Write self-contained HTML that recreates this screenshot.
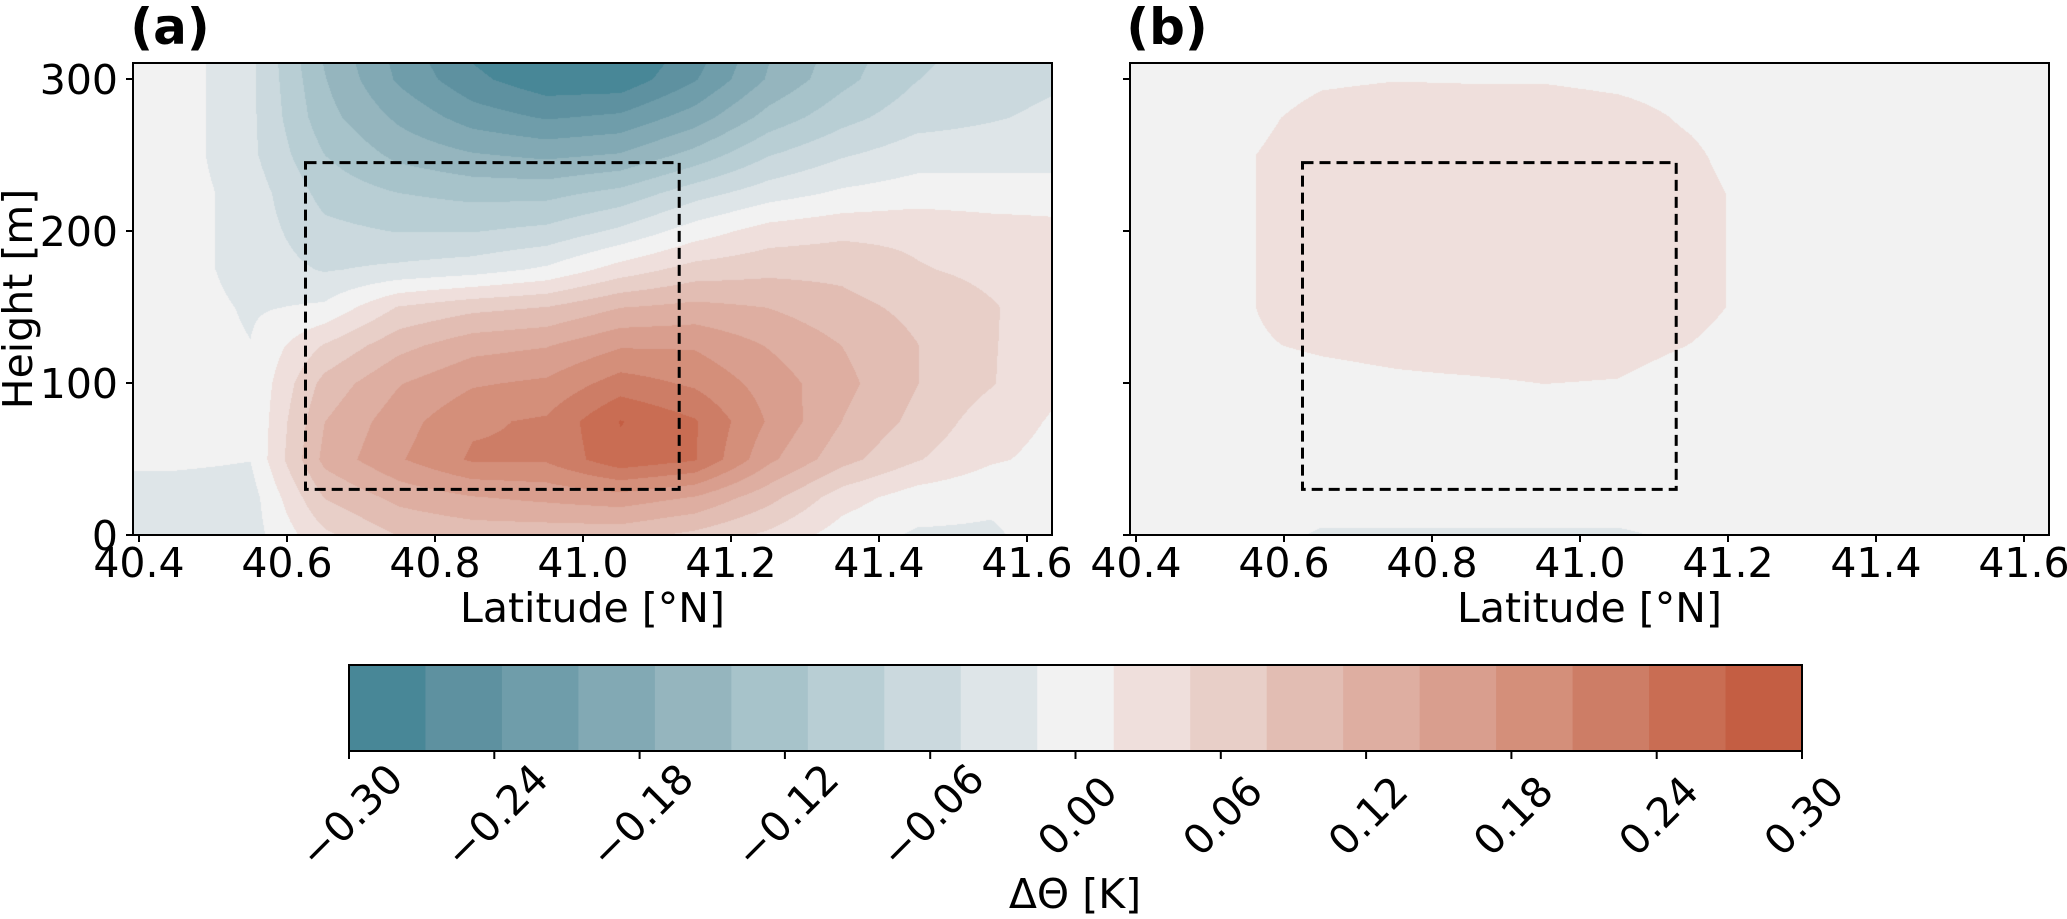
<!DOCTYPE html>
<html><head><meta charset="utf-8"><style>
html,body{margin:0;padding:0;background:#fff;}
#wrap{position:relative;width:2067px;height:919px;overflow:hidden;}
canvas{position:absolute;}
svg{position:absolute;left:0;top:0;}
text{font-family:"DejaVu Sans","Liberation Sans",sans-serif;fill:#000;}
</style></head><body>
<div id="wrap">
<canvas id="ca" width="919" height="472" style="left:133px;top:63px"></canvas>
<canvas id="cb" width="919" height="472" style="left:1130px;top:63px"></canvas>
<svg id="svg" width="2067" height="919"></svg>
</div>
<script>
// ---- data ----
const latGrid = [40.35,40.45,40.55,40.65,40.75,40.85,40.95,41.05,41.15,41.25,41.35,41.45,41.55,41.65];
const hGrid = [0,25,50,75,100,125,150,175,200,225,250,275,300,325];
const fieldA = [
[-0.03,-0.03,-0.03,0.04,0.08,0.09,0.09,0.09,0.07,0.04,0.0,-0.02,-0.02,0.0],
[-0.03,-0.03,-0.03,0.08,0.12,0.14,0.15,0.16,0.14,0.09,0.03,0.0,-0.01,-0.01],
[-0.01,-0.01,-0.015,0.12,0.17,0.21,0.21,0.26,0.24,0.15,0.09,0.05,0.02,0.005],
[0,0,-0.015,0.11,0.16,0.20,0.21,0.27,0.24,0.17,0.11,0.07,0.03,0.01],
[0,0,-0.015,0.09,0.14,0.17,0.18,0.22,0.20,0.16,0.12,0.08,0.05,0.015],
[0,0,-0.015,0.05,0.10,0.13,0.14,0.17,0.17,0.14,0.11,0.08,0.05,0.025],
[0,0,-0.02,-0.01,0.05,0.07,0.08,0.11,0.12,0.11,0.09,0.07,0.05,0.03],
[0,0,-0.03,-0.05,-0.04,-0.03,-0.01,0.03,0.06,0.07,0.07,0.05,0.04,0.03],
[0,0,-0.03,-0.07,-0.08,-0.08,-0.07,-0.04,0.0,0.03,0.04,0.04,0.03,0.025],
[0,0,-0.03,-0.09,-0.11,-0.12,-0.12,-0.10,-0.06,-0.03,-0.01,0.0,0.0,0.0],
[0,0,-0.04,-0.11,-0.15,-0.17,-0.18,-0.17,-0.13,-0.08,-0.05,-0.03,-0.03,-0.03],
[0,0,-0.04,-0.13,-0.18,-0.22,-0.24,-0.23,-0.19,-0.13,-0.09,-0.06,-0.05,-0.04],
[0,0,-0.04,-0.14,-0.21,-0.26,-0.29,-0.29,-0.24,-0.17,-0.12,-0.08,-0.06,-0.05],
[0,0,-0.04,-0.15,-0.22,-0.28,-0.31,-0.31,-0.26,-0.18,-0.13,-0.09,-0.07,-0.06]];
const fieldB = [
[0,0,0,-0.02,-0.02,-0.02,-0.02,-0.02,-0.01,0,0,0,0,0],
[0,0,0,0,0,0,0,0,0,0,0,0,0,0],
[0,0,0,0,0,0,0,0,0,0,0,0,0,0],
[0,0,0,0.003,0.004,0.005,0.006,0.005,0,0,0,0,0,0],
[0,0,0,0.005,0.01,0.012,0.016,0.014,0.0,0,0,0,0,0],
[0,0,0.012,0.02,0.025,0.03,0.03,0.028,0.015,0,0,0,0,0],
[0,0,0.014,0.03,0.035,0.035,0.035,0.035,0.025,0.005,0,0,0,0],
[0,0,0.014,0.03,0.035,0.035,0.035,0.035,0.025,0.005,0,0,0,0],
[0,0,0.014,0.03,0.035,0.035,0.035,0.035,0.025,0.005,0,0,0,0],
[0,0,0.014,0.03,0.035,0.035,0.035,0.035,0.025,0.005,0,0,0,0],
[0,0,0.014,0.03,0.035,0.035,0.035,0.03,0.02,0,0,0,0,0],
[0,0,0.008,0.025,0.03,0.03,0.03,0.025,0.012,0,0,0,0,0],
[0,0,0,0.012,0.015,0.014,0.014,0.01,0.005,0,0,0,0,0],
[0,0,0,0,0,0,0,0,0,0,0,0,0,0]];
const levelColors = ["#488797","#5e91a0","#6f9daa","#82a9b4","#95b5be","#a7c3ca","#b8ced4","#cbd9de","#dee5e8","#f2f2f2","#efdfdc","#e8cfc8","#e2bdb3","#deaea1","#d99e8e","#d48f7a","#cd7d66","#c96d53","#c45e43"];
const vmin = -0.30, vmax = 0.30;
const latTicks = [40.4,40.6,40.8,41.0,41.2,41.4,41.6];
const latTickLabels = ["40.4","40.6","40.8","41.0","41.2","41.4","41.6"];
const hTicks = [0,100,200,300];
const hTickLabels = ["0","100","200","300"];
const cbTicks = [-0.30,-0.24,-0.18,-0.12,-0.06,0.00,0.06,0.12,0.18,0.24,0.30];
const cbTickLabels = ["\u22120.30","\u22120.24","\u22120.18","\u22120.12","\u22120.06","0.00","0.06","0.12","0.18","0.24","0.30"];
const boxLat = [40.625, 41.13];
const boxH = [30, 245];

// ---- scales ----
const panelLeft = [133, 1130];
const plotW = 919, plotTop = 63, plotBottom = 535;
function xLat(lat, p){ return panelLeft[p] + 6 + (lat-40.4)/0.2*148; }
function yH(h){ return 535 - h*1.52; }
function latAt(px){ return 40.4 + (px-6)/740; }
function hAt(py){ return (plotBottom-plotTop-py)/1.52; }
const cbL = 349, cbR = 1802, cbT = 665, cbB = 751;
function xCb(v){ return cbL + (v-vmin)/(vmax-vmin)*(cbR-cbL); }

function hex(c){ return [parseInt(c.slice(1,3),16),parseInt(c.slice(3,5),16),parseInt(c.slice(5,7),16)]; }
const rgb = levelColors.map(hex);
function sample(field, lat, h){
  let fi = (lat-latGrid[0])/(latGrid[1]-latGrid[0]);
  let fj = (h-hGrid[0])/(hGrid[1]-hGrid[0]);
  fi = Math.max(0, Math.min(latGrid.length-1.0001, fi));
  fj = Math.max(0, Math.min(hGrid.length-1.0001, fj));
  const i=Math.floor(fi), j=Math.floor(fj), a=fi-i, b=fj-j;
  const v00=field[j][i], v10=field[j][i+1], v01=field[j+1][i], v11=field[j+1][i+1];
  return (v00*(1-a)+v10*a)*(1-b)+(v01*(1-a)+v11*a)*b;
}
function drawField(id, field){
  const cv=document.getElementById(id), ctx=cv.getContext('2d');
  const img=ctx.createImageData(cv.width, cv.height);
  const n=levelColors.length;
  for(let py=0;py<cv.height;py++){
    const h=hAt(py);
    for(let px=0;px<cv.width;px++){
      const v=sample(field, latAt(px), h);
      let k=Math.floor((v-vmin)/(vmax-vmin)*n);
      k=Math.max(0,Math.min(n-1,k));
      const o=(py*cv.width+px)*4, c=rgb[k];
      img.data[o]=c[0]; img.data[o+1]=c[1]; img.data[o+2]=c[2]; img.data[o+3]=255;
    }
  }
  ctx.putImageData(img,0,0);
}
drawField('ca', fieldA);
drawField('cb', fieldB);

// ---- svg ----
const svg=document.getElementById('svg');
const NS="http://www.w3.org/2000/svg";
function mk(tag, attrs, parent){
  const e=document.createElementNS(NS,tag);
  for(const k in attrs) e.setAttribute(k, attrs[k]);
  (parent||svg).appendChild(e); return e;
}
["a","b"].forEach((nm,p)=>{
  const g=mk('g',{});
  
  
  const L=panelLeft[p];
  const bx=mk('rect',{x:xLat(boxLat[0],p),y:yH(boxH[1]),width:xLat(boxLat[1],p)-xLat(boxLat[0],p),height:yH(boxH[0])-yH(boxH[1]),fill:'none',stroke:'#000','stroke-width':3,'stroke-dasharray':'11 6'},g);
  
  
  const fr=mk('rect',{x:L,y:plotTop,width:plotW,height:plotBottom-plotTop,fill:'none',stroke:'#000','stroke-width':2},g);
  
  
  latTicks.forEach((t,i)=>{
    const x=xLat(t,p);
    const tk=mk('line',{x1:x,x2:x,y1:plotBottom,y2:plotBottom+7,stroke:'#000','stroke-width':2},g);
    
    
    const tx=mk('text',{x:x,y:577,'text-anchor':'middle','font-size':41},g);
    tx.textContent=latTickLabels[i];
    
    
  });
  hTicks.forEach((t,i)=>{
    const y=yH(t);
    const tk=mk('line',{x1:L-7,x2:L,y1:y,y2:y,stroke:'#000','stroke-width':2},g);
    
    
    if(p===0){
      const tx=mk('text',{x:118,y:y+15,'text-anchor':'end','font-size':41},g);
      tx.textContent=hTickLabels[i];
      
      
    }
  });
  const xl=mk('text',{x:L+plotW/2,y:622,'text-anchor':'middle','font-size':41},g);
  xl.textContent='Latitude [°N]';
  
  
  const pl=mk('text',{x:L+37,y:44,'text-anchor':'middle','font-size':50,'font-weight':'bold'},g);
  pl.textContent='('+nm+')';
  
  
});
const yl=mk('text',{x:0,y:0,'text-anchor':'middle','font-size':41,transform:'translate(32,299) rotate(-90)'});
yl.textContent='Height [m]';



// colorbar
const cb=mk('g',{});


const n=levelColors.length;
levelColors.forEach((c,k)=>{
  const v0=vmin+k*(vmax-vmin)/n, v1=vmin+(k+1)*(vmax-vmin)/n;
  const r=mk('rect',{x:xCb(v0),y:cbT,width:xCb(v1)-xCb(v0)+0.6,height:cbB-cbT,fill:c},cb);
  
  
});
const ol=mk('rect',{x:cbL,y:cbT,width:cbR-cbL,height:cbB-cbT,fill:'none',stroke:'#000','stroke-width':2},cb);


cbTicks.forEach((t,i)=>{
  const x=xCb(t);
  const tk=mk('line',{x1:x,x2:x,y1:cbB,y2:cbB+8,stroke:'#000','stroke-width':2},cb);
  
  
  const tx=mk('text',{x:0,y:0,'text-anchor':'middle','dominant-baseline':'central','font-size':41,transform:'translate('+(x+2)+',816) rotate(-45)'},cb);
  tx.textContent=cbTickLabels[i];
  
  
});
const ct=mk('text',{x:1075,y:908,'text-anchor':'middle','font-size':41},cb);
ct.textContent='ΔΘ [K]';


</script>
</body></html>
